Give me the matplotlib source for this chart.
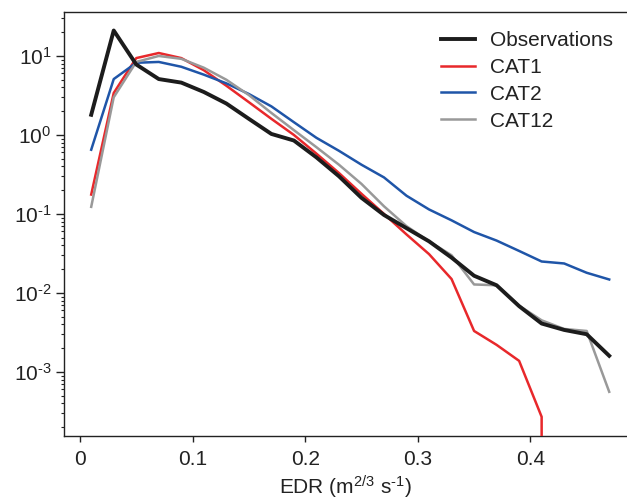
import matplotlib
matplotlib.use("Agg")
import matplotlib.pyplot as plt
import numpy as np
from matplotlib.ticker import LogLocator, NullLocator, NullFormatter, FuncFormatter

plt.rcParams['font.family'] = ['Liberation Sans', 'DejaVu Sans']
plt.rcParams['mathtext.fontset'] = 'custom'
plt.rcParams['mathtext.rm'] = 'Liberation Sans'
plt.rcParams['mathtext.it'] = 'Liberation Sans:italic'
plt.rcParams['mathtext.bf'] = 'Liberation Sans:bold'
plt.rcParams['mathtext.default'] = 'regular'
plt.rcParams['axes.unicode_minus'] = False

edr = [0.01, 0.03, 0.05, 0.07, 0.09, 0.11, 0.13, 0.15, 0.17, 0.19, 0.21, 0.23,
       0.25, 0.27, 0.29, 0.31, 0.33, 0.35, 0.37, 0.39, 0.41, 0.43, 0.45, 0.47]

observations = [1.8, 21.0, 7.8, 5.1, 4.6, 3.5, 2.5, 1.6, 1.03, 0.85, 0.52, 0.30,
                0.16, 0.097, 0.066, 0.045, 0.028, 0.0165, 0.0125, 0.0068, 0.0041,
                0.0034, 0.0030, 0.0016]
cat1 = [0.176, 3.4, 9.4, 10.9, 9.4, 6.6, 4.2, 2.6, 1.6, 1.0, 0.58, 0.33,
        0.18, 0.100, 0.055, 0.031, 0.0150, 0.0033, 0.0022, 0.00138, 0.00027,
        0.0, 0.0, 0.0]
cat2 = [0.65, 5.1, 8.2, 8.4, 7.3, 5.8, 4.5, 3.3, 2.3, 1.45, 0.92, 0.63,
        0.42, 0.29, 0.17, 0.114, 0.083, 0.059, 0.046, 0.034, 0.025,
        0.0236, 0.018, 0.0148]
cat12 = [0.123, 3.0, 8.4, 10.0, 9.2, 7.1, 5.0, 3.2, 1.9, 1.15, 0.70, 0.42,
         0.24, 0.125, 0.070, 0.045, 0.030, 0.0128, 0.0125, 0.0069, 0.0045,
         0.0035, 0.0033, 0.00056]

labels = ['Observations', 'CAT1', 'CAT2', 'CAT12']


def log_label(v, pos):
    e = int(round(np.log10(v)))
    if e < 0:
        return r'$10^{\text{-}%d}$' % (-e)
    return r'$10^{%d}$' % e


fig = plt.figure(figsize=(6.27, 5.01), dpi=100)
ax = fig.add_axes([0.102, 0.13, 0.898, 0.846])

ax.plot(edr, observations, color='#1c1c1c', lw=2.8, label=labels[0], zorder=4)
ax.plot(edr, cat1, color='#e8282b', lw=1.8, label=labels[1], zorder=3)
ax.plot(edr, cat2, color='#1f55a8', lw=1.8, label=labels[2], zorder=3)
ax.plot(edr, cat12, color='#999999', lw=1.8, label=labels[3], zorder=3)

ax.set_yscale('log')
ax.set_ylim(1.55e-4, 36)
ax.set_xlim(-0.0142, 0.4858)
ax.set_xticks([0, 0.1, 0.2, 0.3, 0.4])
ax.set_xticklabels(['0', '0.1', '0.2', '0.3', '0.4'])
ax.xaxis.set_minor_locator(NullLocator())
ax.yaxis.set_major_locator(LogLocator(base=10, numticks=20))
ax.yaxis.set_major_formatter(FuncFormatter(log_label))
ax.yaxis.set_minor_locator(LogLocator(base=10, subs=np.arange(2, 10), numticks=20))
ax.yaxis.set_minor_formatter(NullFormatter())

ax.spines['right'].set_visible(False)
for s in ['left', 'bottom', 'top']:
    ax.spines[s].set_linewidth(1.0)
    ax.spines[s].set_color('#222222')

ax.tick_params(axis='both', which='major', labelsize=15, colors='#222222', width=1.0)
ax.tick_params(axis='x', which='major', length=4.5, pad=6)
ax.tick_params(axis='y', which='major', length=6, pad=3)
ax.tick_params(axis='y', which='minor', length=2.5, width=0.8, colors='#222222')
ax.tick_params(top=False, right=False)

ax.set_xlabel(r'EDR (m$^{2/3}$ s$^{\text{-}1}$)', fontsize=15, color='#222222', labelpad=3)

leg = ax.legend(loc='upper right', frameon=False, fontsize=15,
                handlelength=1.67, handletextpad=0.7, labelspacing=0.38,
                borderaxespad=0.0, bbox_to_anchor=(0.99, 0.975))
for t in leg.get_texts():
    t.set_color('#222222')

fig.savefig('out.png', dpi=100)
